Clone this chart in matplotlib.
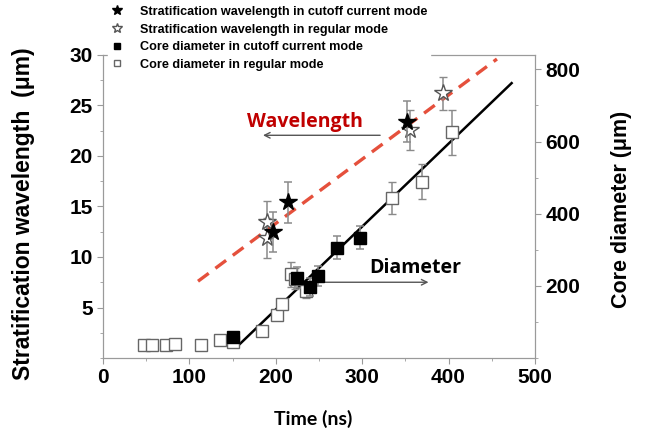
import matplotlib
matplotlib.use("Agg")
from matplotlib import pyplot as plt
from matplotlib.ticker import MultipleLocator

plt.rcParams['font.family'] = ['Liberation Sans', 'DejaVu Sans']
plt.rcParams['font.weight'] = 'bold'
plt.rcParams['axes.labelweight'] = 'bold'

# stratification wavelength (um), left axis
cut_wl_t = [197, 214.5, 351.5]
cut_wl = [12.5, 15.4, 23.4]
cut_wl_err = [2.0, 2.0, 2.0]

reg_wl_t = [190, 190, 355, 393]
reg_wl = [13.5, 11.9, 22.6, 26.2]
reg_wl_err = [2.0, 2.0, 2.0, 1.6]

# core diameter (um), right axis
cut_d_t = [150, 225, 240, 249, 271, 298]
cut_d = [59, 223, 197, 228, 306, 334]
cut_d_err = [12, 28, 25, 28, 32, 32]

reg_d_t = [47, 57, 73, 83, 113, 136, 151, 184, 202, 207, 218, 222, 235, 335, 369, 404]
reg_d = [36, 36, 36, 40, 36, 50, 43, 75, 119, 151, 232, 220, 186, 443, 489, 626]
reg_d_err = [0, 0, 0, 0, 0, 0, 0, 0, 0, 0, 35, 30, 20, 45, 49, 62]

# fitted trend lines
wl_fit_t = [110, 456]
wl_fit = [7.6, 29.6]
d_fit_t = [155, 473]
d_fit = [31, 762]

grey = '#9a9a9a'
eb_kw = dict(ecolor='#8a8a8a', elinewidth=1.1, capsize=3, capthick=1.1, linestyle='none')

fig = plt.figure(figsize=(6.46, 4.33), dpi=100)
ax = fig.add_axes([0.1594, 0.1732, 0.6687, 0.6998])
ax2 = ax.twinx()

ax.plot(wl_fit_t, wl_fit, color='#e5503c', lw=2.4, dashes=(4, 2.5), zorder=2)
ax2.plot(d_fit_t, d_fit, color='black', lw=1.8, zorder=2)

h_cwl = ax.errorbar(cut_wl_t, cut_wl, yerr=cut_wl_err, marker='*', ms=13,
                    mfc='black', mec='black', zorder=4, **eb_kw)
h_rwl = ax.errorbar(reg_wl_t, reg_wl, yerr=reg_wl_err, marker='*', ms=13,
                    mfc='white', mec='#555555', mew=1.0, zorder=3, **eb_kw)
h_cd = ax2.errorbar(cut_d_t, cut_d, yerr=cut_d_err, marker='s', ms=8,
                    mfc='black', mec='black', zorder=4, **eb_kw)
h_rd = ax2.errorbar(reg_d_t, reg_d, yerr=reg_d_err, marker='s', ms=8,
                    mfc='white', mec='#666666', mew=1.0, zorder=3, **eb_kw)

ax.set_xlim(0, 500)
ax.set_ylim(0, 30)
ax2.set_ylim(0, 840)

ax.xaxis.set_major_locator(MultipleLocator(100))
ax.xaxis.set_minor_locator(MultipleLocator(50))
ax.set_yticks([5, 10, 15, 20, 25, 30])
ax.yaxis.set_minor_locator(MultipleLocator(2.5))
ax2.set_yticks([200, 400, 600, 800])
ax2.yaxis.set_minor_locator(MultipleLocator(100))

for a in (ax, ax2):
    for s in a.spines.values():
        s.set_color(grey)
    a.tick_params(which='both', direction='out', color=grey, labelsize=15)
    a.tick_params(which='major', length=4)
    a.tick_params(which='minor', length=2.5)

ax.set_xlabel('Time (ns)', fontsize=14, family=['Lato', 'DejaVu Sans'])
ax.xaxis.set_label_coords(0.486, -0.172)
ax.set_ylabel('Stratification wavelength  (\u03bcm)', fontsize=16.5)
ax.yaxis.set_label_coords(-0.157, 0.475)
ax2.set_ylabel('Core diameter (\u03bcm)', fontsize=15.5)
ax2.yaxis.set_label_coords(1.176, 0.49)

ax.annotate('', xy=(182, 22.05), xytext=(324, 22.05),
            arrowprops=dict(arrowstyle='->', color='#555555', lw=1))
ax.text(234, 23.4, 'Wavelength', color='#c00000', fontsize=14,
        family=['Open Sans', 'DejaVu Sans'], ha='center', va='center')
ax.annotate('', xy=(380, 7.5), xytext=(251, 7.5),
            arrowprops=dict(arrowstyle='->', color='#555555', lw=1))
ax.text(361, 8.9, 'Diameter', color='black', fontsize=14,
        family=['Open Sans', 'DejaVu Sans'], ha='center', va='center')

labels = ['Stratification wavelength in cutoff current mode',
          'Stratification wavelength in regular mode',
          'Core diameter in cutoff current mode',
          'Core diameter in regular mode']
handles = [h_cwl[0], h_rwl[0], h_cd[0], h_rd[0]]
leg = fig.legend(handles, labels, loc='upper left', bbox_to_anchor=(0.158, 1.007),
                 frameon=True, facecolor='white', edgecolor='white', framealpha=1,
                 fontsize=9.1, markerscale=0.6, handlelength=1.0, handletextpad=1.3,
                 labelspacing=0.45, borderpad=0.2)
leg.set_zorder(10)

fig.savefig('out.png', dpi=100)
